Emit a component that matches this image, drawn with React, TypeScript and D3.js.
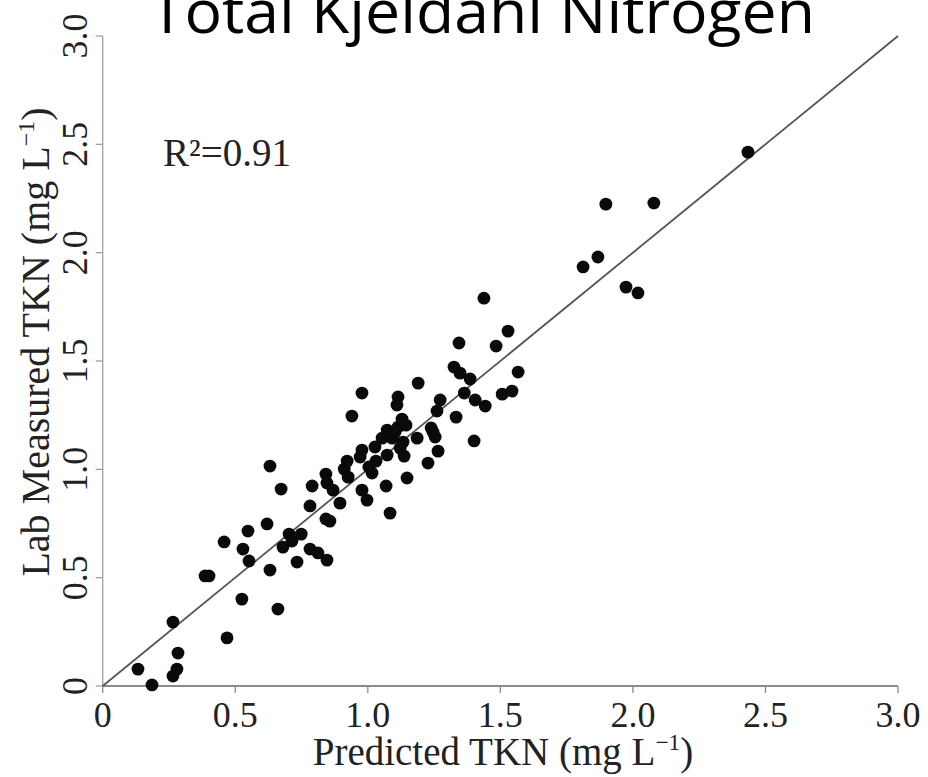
import React from "react";
import * as d3 from "d3";

const predicted: number[] = [
  0.133, 0.186, 0.265, 0.284, 0.280, 0.265, 0.386, 0.401, 0.469, 0.525,
  0.458, 0.529, 0.548, 0.552, 0.620, 0.631, 0.661, 0.673, 0.680, 0.703,
  0.714, 0.733, 0.631, 0.749, 0.782, 0.790, 0.782, 0.812, 0.846, 0.842,
  0.857, 0.842, 0.846, 0.869, 0.895, 0.911, 0.922, 0.926, 0.940, 0.971,
  0.978, 0.978, 0.978, 0.997, 1.004, 1.016, 1.027, 1.031, 1.054, 1.069,
  1.073, 1.073, 1.084, 1.092, 1.103, 1.110, 1.114, 1.114, 1.122, 1.129,
  1.133, 1.137, 1.144, 1.148, 1.186, 1.190, 1.227, 1.239, 1.246, 1.254,
  1.265, 1.261, 1.273, 1.333, 1.325, 1.348, 1.344, 1.386, 1.364, 1.405,
  1.401, 1.443, 1.438, 1.484, 1.507, 1.544, 1.529, 1.567, 1.812, 1.868,
  1.898, 2.079, 1.974, 2.019, 2.434,
];

const measured: number[] = [
  0.078, 0.005, 0.295, 0.152, 0.078, 0.046, 0.508, 0.508, 0.222, 0.401,
  0.665, 0.632, 0.715, 0.577, 0.748, 0.535, 0.355, 0.909, 0.641, 0.701,
  0.669, 0.572, 1.015, 0.701, 0.831, 0.923, 0.632, 0.614, 0.581, 0.771,
  0.761, 0.978, 0.937, 0.904, 0.844, 1.001, 1.038, 0.964, 1.246, 1.057,
  1.089, 1.352, 0.904, 0.858, 1.011, 0.983, 1.103, 1.038, 1.144, 0.923,
  1.181, 1.066, 0.798, 1.144, 1.172, 1.297, 1.334, 1.195, 1.098, 1.232,
  1.126, 1.061, 1.204, 0.960, 1.144, 1.398, 1.029, 1.191, 1.172, 1.149,
  1.084, 1.269, 1.320, 1.241, 1.472, 1.444, 1.583, 1.417, 1.352, 1.320,
  1.131, 1.292, 1.790, 1.569, 1.347, 1.361, 1.638, 1.449, 1.934, 1.980,
  2.224, 2.229, 1.841, 1.814, 2.464,
];

const tickValues: number[] = [0, 0.5, 1.0, 1.5, 2.0, 2.5, 3.0];
const tickLabels: string[] = ["0", "0.5", "1.0", "1.5", "2.0", "2.5", "3.0"];

const title = "Total Kjeldahl Nitrogen";
const xTitle = "Predicted TKN ";
const yTitle = "Lab Measured TKN ";
const r2Label = "R²=0.91";

export default function App() {
  const W = 928;
  const H = 777;
  const x = d3.scaleLinear().domain([0, 3]).range([102.7, 898]);
  const y = d3.scaleLinear().domain([0, 3]).range([686, 36]);
  const serif = "'Liberation Serif', 'Times New Roman', serif";
  const line = d3.line<[number, number]>()
    .x((d) => x(d[0]))
    .y((d) => y(d[1]));

  const unit = (size: number) => (
    <>
      <tspan>(mg L</tspan>
      <tspan fontSize={size * 0.6} dy={-size * 0.38}>−1</tspan>
      <tspan dy={size * 0.38}>)</tspan>
    </>
  );

  return (
    <svg
      width={W}
      height={H}
      style={{ position: "absolute", left: 0, top: 0, background: "#fff" }}
    >
      <rect x={0} y={0} width={W} height={H} fill="#fff" />
      <text
        x={150}
        y={33}
        textLength={665}
        lengthAdjust="spacingAndGlyphs"
        fontFamily="'Open Sans', sans-serif"
        fontSize={60}
        fill="#000"
      >
        {title}
      </text>

      {/* axes */}
      <line x1={x(0)} x2={x(3)} y1={y(0)} y2={y(0)} stroke="#8a8a8a" strokeWidth={1.8} />
      <line x1={x(0)} x2={x(0)} y1={y(0)} y2={y(3)} stroke="#a0a0a0" strokeWidth={1.3} />
      {tickValues.map((v, i) => (
        <g key={"xt" + i}>
          <line x1={x(v)} x2={x(v)} y1={y(0)} y2={y(0) + 7} stroke="#8a8a8a" strokeWidth={1.3} />
          <text
            x={x(v)}
            y={727}
            textAnchor="middle"
            fontFamily={serif}
            fontSize={36}
            fill="#222"
          >
            {tickLabels[i]}
          </text>
        </g>
      ))}
      {tickValues.map((v, i) => (
        <g key={"yt" + i}>
          <line x1={x(0) - 7} x2={x(0)} y1={y(v)} y2={y(v)} stroke="#a0a0a0" strokeWidth={1.3} />
          <text
            transform={`translate(87,${y(v)}) rotate(-90)`}
            textAnchor="middle"
            fontFamily={serif}
            fontSize={36}
            fill="#222"
          >
            {tickLabels[i]}
          </text>
        </g>
      ))}

      {/* 1:1 line */}
      <path
        d={line([[0, 0], [3, 3]]) || ""}
        stroke="#555"
        strokeWidth={1.8}
        fill="none"
      />

      {predicted.map((p, i) => (
        <circle key={i} cx={x(p)} cy={y(measured[i])} r={6.4} fill="#0a0a0a" />
      ))}

      <text x={163} y={166} fontFamily={serif} fontSize={39} fill="#222">
        {r2Label}
      </text>

      <text
        x={503}
        y={765}
        textAnchor="middle"
        fontFamily={serif}
        fontSize={39}
        fill="#222"
      >
        {xTitle}
        {unit(39)}
      </text>
      <text
        transform={`translate(49,342) rotate(-90)`}
        textAnchor="middle"
        fontFamily={serif}
        fontSize={40}
        fill="#222"
      >
        {yTitle}
        {unit(40)}
      </text>
    </svg>
  );
}
